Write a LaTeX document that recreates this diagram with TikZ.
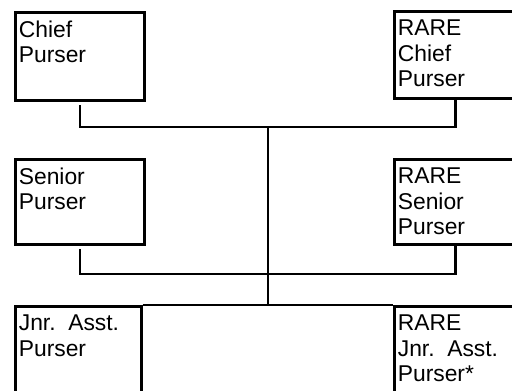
\documentclass[tikz,border=0pt]{standalone}
\usepackage{fontspec}
\setmainfont{Liberation Sans}
\usepackage{tikz}
\usetikzlibrary{calc}

\newcommand{\roletext}[3]{\parbox[t][#2][t]{#1}{#3}}

\begin{document}
\begin{tikzpicture}[x=0.02cm,y=-0.02cm,
  post/.style={draw, line width=1.5pt, anchor=north west, inner xsep=2pt, inner ysep=5pt,
    font=\fontsize{13}{14.4}\selectfont},
  link/.style={line width=1.5pt}]

\path[use as bounding box, clip] (0,0) rectangle (512,390);

\node[post] (chief) at (14,11) {\roletext{2.44cm}{1.41cm}{Chief\\Purser}};
\node[post] (rchief) at (393,10) {\roletext{2.60cm}{1.39cm}{RARE\\Chief\\Purser}};

\node[post] (senior) at (14,158) {\roletext{2.44cm}{1.35cm}{Senior\\Purser}};
\node[post] (rsenior) at (393,158) {\roletext{2.60cm}{1.35cm}{RARE\\Senior\\Purser}};

\node[post] (jnr) at (14,305) {\roletext{2.38cm}{1.65cm}{Jnr.\ \ Asst.\\Purser}};
\node[post] (rjnr) at (393,305) {\roletext{2.60cm}{1.65cm}{RARE\\Jnr.\ \ Asst.\\Purser*}};

\coordinate (top) at (268,127);
\coordinate (mid) at (268,274);
\coordinate (bot) at (top |- jnr.north);

\draw[link, shorten <=2pt] (chief.south) |- (top) -| ([xshift=-0.15cm]rchief.south);
\draw[link, shorten <=2pt] (senior.south) |- (mid) -| ([xshift=-0.15cm]rsenior.south);
\draw[link] (top) -- (bot);
\draw[link] (jnr.north east) -- (rjnr.north west);

\end{tikzpicture}
\end{document}
